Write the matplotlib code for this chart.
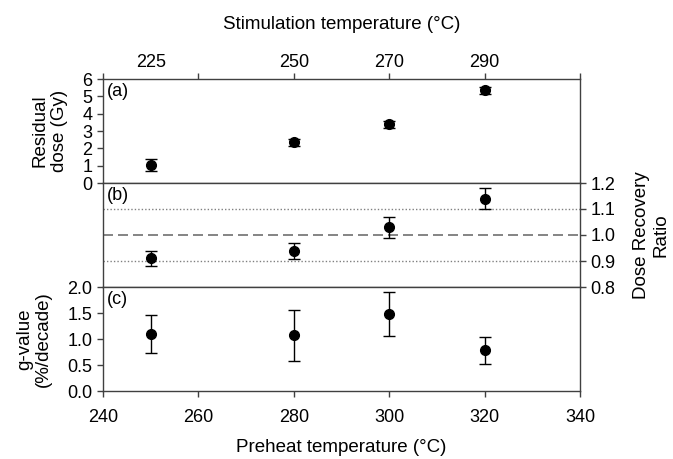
import matplotlib
matplotlib.use('Agg')
import matplotlib.pyplot as plt

# preheat temperatures (bottom axis) and stimulation temps (top axis labels)
preheat = [250, 280, 300, 320]
stim_labels = ['225', '250', '270', '290']

# (a) residual dose, Gy
residual = [1.05, 2.36, 3.39, 5.34]
residual_err = [0.33, 0.2, 0.2, 0.2]

# (b) dose recovery ratio
recovery = [0.91, 0.94, 1.03, 1.14]
recovery_err = [0.03, 0.031, 0.04, 0.04]

# (c) g-value, %/decade
gvalue = [1.10, 1.07, 1.48, 0.78]
gvalue_err = [0.36, 0.485, 0.425, 0.26]

plt.rcParams['font.family'] = ['Liberation Sans', 'DejaVu Sans']
plt.rcParams['font.size'] = 13

W, H = 673, 459
fig = plt.figure(figsize=(W / 100, H / 100), dpi=100)

def frac_box(top, bottom, left=103, right=580):
    return [left / W, 1 - bottom / H, (right - left) / W, (bottom - top) / H]

ax_a = fig.add_axes(frac_box(79, 183))
ax_b = fig.add_axes(frac_box(183, 287))
ax_c = fig.add_axes(frac_box(287, 391))

spine_col = '#404040'
lab_fs = 13.5
for ax in (ax_a, ax_b, ax_c):
    ax.set_xlim(240, 340)
    for s in ax.spines.values():
        s.set_color(spine_col)
        s.set_linewidth(1.0)
    ax.tick_params(colors=spine_col, labelcolor='black', direction='out',
                   length=4, width=1.0, labelsize=13)

err_kw = dict(fmt='o', color='black', ms=7, ecolor='black', elinewidth=1.0,
              capsize=4, capthick=1.0)

# (a)
ax_a.errorbar(preheat, residual, yerr=residual_err, **err_kw)
ax_a.set_ylim(0, 6)
ax_a.set_yticks(range(0, 7))
ax_a.xaxis.tick_top()
ax_a.xaxis.remove_overlapping_locs = False
ax_a.set_xticks(range(240, 341, 20))
ax_a.set_xticklabels([])
ax_a.set_xticks(preheat, minor=True)
ax_a.set_xticklabels(stim_labels, minor=True)
ax_a.tick_params(axis='x', which='minor', length=0, pad=6, labelsize=13)
ax_a.set_xlabel('Stimulation temperature (°C)', fontsize=lab_fs)
ax_a.xaxis.set_label_position('top')
ax_a.xaxis.label.set_va('center')
ax_a.xaxis.set_label_coords(0.5, 1.52)
ax_a.set_ylabel('Residual\ndose (Gy)', fontsize=lab_fs, linespacing=1.15)
ax_a.yaxis.label.set_va('center')
ax_a.yaxis.set_label_coords(-0.112, 0.5)
ax_a.text(0.008, 0.96, '(a)', transform=ax_a.transAxes, va='top', ha='left', fontsize=13)

# (b)
ax_b.axhline(1.1, color='#808080', lw=1.0, ls=(0, (1, 1.5)), zorder=1)
ax_b.axhline(0.9, color='#808080', lw=1.0, ls=(0, (1, 1.5)), zorder=1)
ax_b.axhline(1.0, color='#707070', lw=1.2, ls=(0, (6, 3)), zorder=1)
ax_b.errorbar(preheat, recovery, yerr=recovery_err, **err_kw)
ax_b.set_ylim(0.8, 1.2)
ax_b.set_yticks([0.8, 0.9, 1.0, 1.1, 1.2])
ax_b.yaxis.tick_right()
ax_b.yaxis.set_major_formatter(matplotlib.ticker.FormatStrFormatter('%.1f'))
ax_b.set_xticks([])
ax_b.set_ylabel('Dose Recovery\nRatio', fontsize=lab_fs, linespacing=1.15)
ax_b.yaxis.set_label_position('right')
ax_b.yaxis.label.set_va('center')
ax_b.yaxis.set_label_coords(1.149, 0.5)
ax_b.text(0.008, 0.96, '(b)', transform=ax_b.transAxes, va='top', ha='left', fontsize=13)

# (c)
ax_c.errorbar(preheat, gvalue, yerr=gvalue_err, **err_kw)
ax_c.set_ylim(0, 2)
ax_c.set_yticks([0.0, 0.5, 1.0, 1.5, 2.0])
ax_c.yaxis.set_major_formatter(matplotlib.ticker.FormatStrFormatter('%.1f'))
ax_c.set_xticks(range(240, 341, 20))
ax_c.tick_params(axis='x', pad=9)
ax_c.set_xlabel('Preheat temperature (°C)', fontsize=lab_fs)
ax_c.xaxis.label.set_va('center')
ax_c.xaxis.set_label_coords(0.5, -0.548)
ax_c.set_ylabel('g-value\n(%/decade)', fontsize=lab_fs, linespacing=1.1)
ax_c.yaxis.label.set_va('center')
ax_c.yaxis.set_label_coords(-0.145, 0.5)
ax_c.text(0.008, 0.96, '(c)', transform=ax_c.transAxes, va='top', ha='left', fontsize=13)

fig.savefig('out.png', dpi=100)
